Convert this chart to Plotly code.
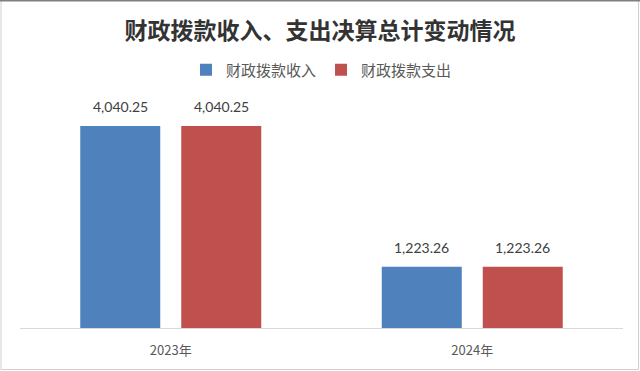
import plotly.graph_objects as go

categories = ["2023年", "2024年"]
income = [4040.25, 1223.26]
expense = [4040.25, 1223.26]
series_names = ["财政拨款收入", "财政拨款支出"]
title_text = "财政拨款收入、支出决算总计变动情况"

W, H = 640, 371
ML, MR, MT, MB = 20, 17, 103, 43
pw = W - ML - MR
ph = H - MT - MB

def px_x(p):
    return (p - ML) / pw

def px_y(p):
    return (H - MB - p) / ph

fig = go.Figure()
fig.add_trace(go.Bar(x=categories, y=income, name=series_names[0],
                     marker=dict(color="#4F81BD", line=dict(width=0))))
fig.add_trace(go.Bar(x=categories, y=expense, name=series_names[1],
                     marker=dict(color="#C0504D", line=dict(width=0))))

annotations = []
for vals, shift in ((income, -50.5), (expense, 50.5)):
    for c, v in zip(categories, vals):
        annotations.append(dict(x=c, y=v, xref="x", yref="y", text=f"{v:,.2f}",
                                showarrow=False, xshift=shift, yshift=19,
                                yanchor="middle",
                                font=dict(family="Lato, Noto Sans", size=14, color="#404040")))

fig.update_layout(
    width=W, height=H,
    margin=dict(l=ML, r=MR, t=MT, b=MB, pad=0),
    paper_bgcolor="white", plot_bgcolor="white",
    barmode="group", bargap=0.33, bargroupgap=0.208,
    title=dict(text="<b>" + title_text + "</b>", x=0.5, xanchor="center",
               y=1 - 31 / H, yanchor="middle",
               font=dict(family="Noto Sans CJK SC", size=23, color="#333333")),
    legend=dict(orientation="h", x=0.5, xanchor="center", y=px_y(70), yanchor="middle",
                font=dict(family="Noto Sans CJK SC", size=15, color="#595959"),
                itemwidth=30, bgcolor="rgba(0,0,0,0)", traceorder="normal"),
    xaxis=dict(showline=True, linecolor="#d9d9d9", linewidth=1, ticks="",
               ticklabelstandoff=10,
               tickfont=dict(family="Noto Sans CJK SC", size=13, color="#595959"),
               showgrid=False, zeroline=False),
    yaxis=dict(range=[0, 4500], visible=False, showgrid=False, zeroline=False),
    annotations=annotations,
    showlegend=True,
)

fig.add_shape(type="rect", xref="paper", yref="paper",
              x0=px_x(1), x1=px_x(638.5), y0=px_y(369.5), y1=px_y(0.5),
              line=dict(color="#d0d0d0", width=1), fillcolor="rgba(0,0,0,0)", layer="above")
fig.add_shape(type="line", xref="paper", yref="paper",
              x0=px_x(0), x1=px_x(640), y0=px_y(0.7), y1=px_y(0.7),
              line=dict(color="#7f7f7f", width=1.5), layer="above")

fig.write_html("out.html", config={"displayModeBar": False},
               post_script="document.body.style.margin='0';document.body.style.overflow='hidden';")
